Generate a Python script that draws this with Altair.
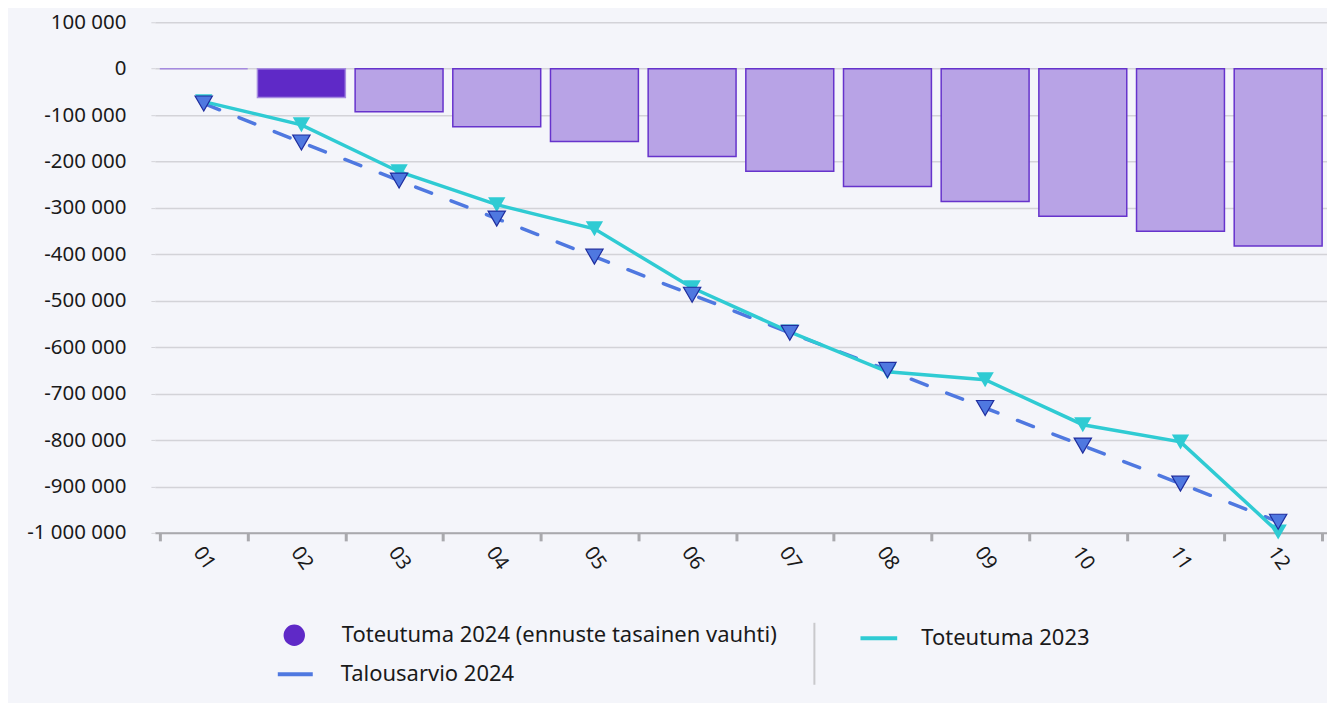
import altair as alt
import pandas as pd

months = ["01", "02", "03", "04", "05", "06", "07", "08", "09", "10", "11", "12"]
toteutuma_2024 = [0, -62000, -93000, -125000, -157000, -189000, -221000, -254000, -286000, -318000, -350000, -382000]
bar_kind = ["toteutuma", "toteutuma"] + ["ennuste"] * 10
talousarvio_2024 = [-75000, -159000, -241000, -323000, -405000, -487000, -569000, -649000, -731000, -812000, -894000, -976000]
toteutuma_2023 = [-71000, -121000, -222000, -293000, -345000, -472000, -567000, -653000, -670000, -767000, -804000, -998000]
y_ticks = [100000, 0, -100000, -200000, -300000, -400000, -500000, -600000, -700000, -800000, -900000, -1000000]

S24 = "Toteutuma 2024 (ennuste tasainen vauhti)"
S23 = "Toteutuma 2023"
SB = "Talousarvio 2024"

C_BAR_DARK = "#5f29c7"
C_BAR_LIGHT = "#b8a3e6"
C_BAR_STROKE = "#6633cc"
C_CYAN = "#2fcbd3"
C_BLUE = "#4f78e0"
C_BLUE_EDGE = "#1f2d9e"

bars_df = pd.DataFrame({"month": months, "value": toteutuma_2024, "kind": bar_kind})
budget_df = pd.DataFrame({"month": months, "value": talousarvio_2024})
prev_df = pd.DataFrame({"month": months, "value": toteutuma_2023})
leg24_df = pd.DataFrame({"series": [S24], "month": ["01"], "value": [900000]})
leg23_df = pd.DataFrame({"series": [S23], "month": ["01"], "value": [900000]})
legB_df = pd.DataFrame({"series": [SB], "month": ["01"], "value": [900000]})

FONT = "Noto Sans"
LABEL_COLOR = "#1a1a1a"

x_enc = alt.X(
    "month:O",
    sort=months,
    title=None,
    scale=alt.Scale(domain=months, paddingInner=0.1, paddingOuter=0.05),
    axis=alt.Axis(
        labelAngle=55,
        labelFontSize=20,
        labelFont=FONT,
        labelColor=LABEL_COLOR,
        labelPadding=17,
        labelAlign="center",
        labelBaseline="middle",
        domainColor="#a9a9ad",
        domainWidth=2,
        tickColor="#a9a9ad",
        tickWidth=3,
        tickSize=8,
        tickBand="extent",
        grid=False,
    ),
)
y_scale = alt.Scale(domain=[-1000000, 100000], nice=False, zero=False)
y_enc = alt.Y(
    "value:Q",
    title=None,
    scale=y_scale,
    axis=alt.Axis(
        values=y_ticks,
        format=",d",
        labelFontSize=20.5,
        labelFont=FONT,
        labelColor=LABEL_COLOR,
        labelPadding=25,
        domain=False,
        tickColor="#d3d3d8",
        tickSize=4,
        gridColor="#d3d3d8",
        gridWidth=1.5,
    ),
)

xm = alt.X("month:O", sort=months)

bars = alt.Chart(bars_df).mark_bar(strokeWidth=1.5).encode(
    x=x_enc,
    y=y_enc,
    fill=alt.condition("datum.kind === 'toteutuma'", alt.value(C_BAR_DARK), alt.value(C_BAR_LIGHT)),
    stroke=alt.condition("datum.kind === 'toteutuma'", alt.value("#a58ae0"), alt.value(C_BAR_STROKE)),
)

budget_line = alt.Chart(budget_df).mark_line(
    color=C_BLUE, strokeWidth=3.5, strokeDash=[17, 21], strokeCap="round"
).encode(x=xm, y="value:Q")

prev_line = alt.Chart(prev_df).mark_line(color=C_CYAN, strokeWidth=3.5).encode(x=xm, y="value:Q")

prev_pts = alt.Chart(prev_df).mark_point(
    shape="triangle-down", filled=True, size=300, color=C_CYAN, opacity=1
).encode(x=xm, y="value:Q")

budget_pts = alt.Chart(budget_df).mark_point(
    shape="triangle-down", filled=True, size=300, fill=C_BLUE, stroke=C_BLUE_EDGE, strokeWidth=1.2, opacity=1
).encode(x=xm, y="value:Q")

common_leg = dict(
    title=None,
    orient="none",
    labelFontSize=22,
    labelFont=FONT,
    labelColor=LABEL_COLOR,
    labelLimit=0,
)

leg24 = alt.Chart(leg24_df).mark_point(clip=True, filled=True, opacity=1).encode(
    x=xm,
    y="value:Q",
    color=alt.Color(
        "series:N",
        scale=alt.Scale(domain=[S24], range=[C_BAR_DARK]),
        legend=alt.Legend(
            legendX=128, legendY=602, labelOffset=36, symbolType="circle", symbolSize=460,
            symbolOpacity=1, **common_leg
        ),
    ),
)

leg23 = alt.Chart(leg23_df).mark_point(clip=True, filled=False, color=C_CYAN, strokeWidth=4).encode(
    x=xm,
    y="value:Q",
    opacity=alt.Opacity(
        "series:N",
        scale=alt.Scale(domain=[S23], range=[1]),
        legend=alt.Legend(
            legendX=704, legendY=596, labelOffset=22, symbolType="stroke", symbolSize=1350,
            symbolStrokeColor=C_CYAN, symbolStrokeWidth=4, **common_leg
        ),
    ),
)

legB = alt.Chart(legB_df).mark_point(
    clip=True, filled=False, color=C_BLUE, strokeWidth=4, opacity=1, strokeDash=[100, 0]
).encode(
    x=xm,
    y="value:Q",
    shape=alt.Shape(
        "series:N",
        scale=alt.Scale(domain=[SB], range=["stroke"]),
        legend=alt.Legend(
            legendX=121, legendY=633, labelOffset=26, symbolType="stroke", symbolSize=1225,
            symbolStrokeColor=C_BLUE, symbolStrokeWidth=4, symbolOpacity=1,
            symbolDash=[100, 0], symbolDashOffset=0, **common_leg
        ),
    ),
)

separator = alt.Chart(leg24_df).mark_rule(color="#c9c9cc", strokeWidth=2).encode(
    x=alt.value(660), y=alt.value(601), y2=alt.value(663)
)

chart = (
    alt.layer(bars, budget_line, prev_line, prev_pts, budget_pts, leg24, leg23, legB, separator)
    .resolve_legend(color="independent", shape="independent", opacity="independent")
    .properties(
        width=1173,
        height=511,
        autosize=alt.AutoSizeParams(type="none"),
        padding={"left": 147, "top": 14, "right": 0, "bottom": 170},
        background="#f4f5fa",
    )
    .configure_view(stroke=None)
)

chart.save(
    "out.html",
    embed_options={
        "renderer": "svg",
        "actions": False,
        "formatLocale": {
            "decimal": ",",
            "thousands": " ",
            "grouping": [3],
            "currency": ["", " €"],
            "minus": "-",
        },
    },
)
